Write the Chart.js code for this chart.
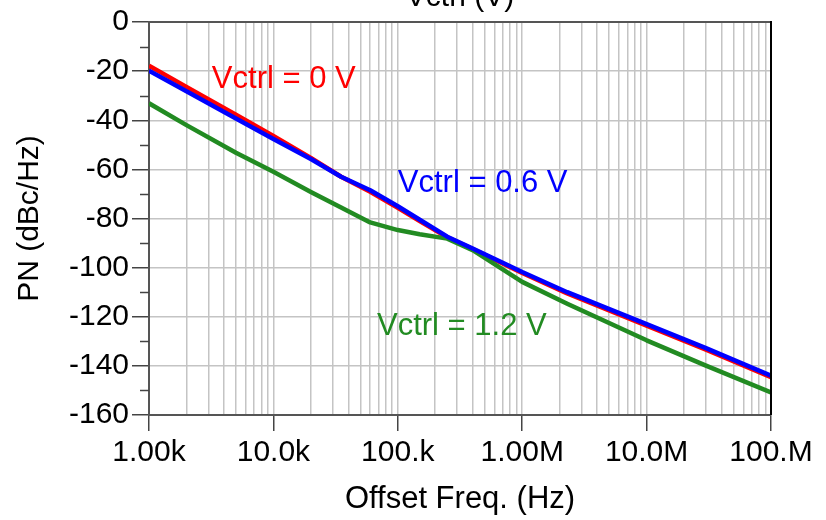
<!DOCTYPE html>
<html>
<head>
<meta charset="utf-8">
<script src="https://cdn.jsdelivr.net/npm/chart.js@4.4.1/dist/chart.umd.min.js"></script>
<style>
  html, body { margin: 0; padding: 0; background: #fff; }
  #wrap { width: 826px; height: 520px; }
</style>
</head>
<body>
<div id="wrap"><canvas id="pnChart" width="826" height="520"></canvas></div>
<script>
// offset frequencies (Hz) where the curves were read
const freqs = [1e3, 2e3, 5e3, 1e4, 2e4, 3.5e4, 6e4, 1e5, 1.5e5, 2.5e5, 4e5, 1e6, 2.3e6, 1e7, 3e7, 1e8];
// phase noise (dBc/Hz) for each control voltage
const pnV0  = [-17.8, -26.4, -37.7, -46.4, -55.3, -63.0, -69.1, -75.6, -81.0, -87.7, -92.4, -102.2, -110.5, -123.6, -133.4, -144.6];
const pnV06 = [-19.8, -28.2, -39.3, -47.6, -55.8, -63.0, -68.5, -75.0, -80.5, -87.4, -92.2, -101.8, -110.0, -123.0, -132.8, -144.0];
const pnV12 = [-33.1, -42.0, -53.2, -61.0, -69.2, -75.5, -81.6, -84.7, -86.4, -88.2, -92.9, -105.8, -114.7, -129.6, -139.9, -150.8];

const seriesNames = ['Vctrl = 0 V', 'Vctrl = 0.6 V', 'Vctrl = 1.2 V'];

// axis ticks
const xDecades = [1e3, 1e4, 1e5, 1e6, 1e7, 1e8];
const xTickLabels = ['1.00k', '10.0k', '100.k', '1.00M', '10.0M', '100.M'];
const yMajor = [0, -20, -40, -60, -80, -100, -120, -140, -160];
const yMinor = [-10, -30, -50, -70, -90, -110, -130, -150];

const FONT = "'Liberation Sans', Arial, Helvetica, sans-serif";
const RED = '#ff0000', BLUE = '#0000ff', GREEN = '#228b22';

function toPoints(vals) {
  return freqs.map((f, i) => ({ x: f, y: vals[i] }));
}

// every 1..9 x decade, for the grid
const xAllTicks = [];
xDecades.forEach((d, i) => {
  if (i === xDecades.length - 1) { xAllTicks.push(d); return; }
  for (let m = 1; m <= 9; m++) xAllTicks.push(d * m);
});

// frame, minor y ticks, title and curve labels
const decorPlugin = {
  id: 'decor',
  afterDraw(chart) {
    const ctx = chart.ctx;
    const a = chart.chartArea;
    const xs = chart.scales.x, ys = chart.scales.y;
    ctx.save();
    // top + right frame
    ctx.lineWidth = 2;
    ctx.strokeStyle = '#555';
    ctx.beginPath(); ctx.moveTo(a.left, a.top); ctx.lineTo(a.right, a.top); ctx.stroke();
    ctx.strokeStyle = '#000';
    ctx.beginPath(); ctx.moveTo(a.right, a.top - 1); ctx.lineTo(a.right, a.bottom); ctx.stroke();
    // minor y ticks
    ctx.strokeStyle = '#444';
    ctx.lineWidth = 1.5;
    yMinor.forEach(v => {
      const y = Math.round(ys.getPixelForValue(v)) + 0.5;
      ctx.beginPath(); ctx.moveTo(a.left - 9, y); ctx.lineTo(a.left, y); ctx.stroke();
    });
    // clipped chart title
    ctx.fillStyle = '#000';
    ctx.font = '30px ' + FONT;
    ctx.textAlign = 'center';
    ctx.textBaseline = 'alphabetic';
    ctx.fillText('Vctrl (V)', (a.left + a.right) / 2, 6);
    // curve labels, anchored in data space
    ctx.textAlign = 'left';
    ctx.font = '31px ' + FONT;
    const labels = [
      { text: seriesNames[0], f: 3.2e3, v: -26.8, c: RED },
      { text: seriesNames[1], f: 1.0e5, v: -69.2, c: BLUE },
      { text: seriesNames[2], f: 6.8e4, v: -127.6, c: GREEN }
    ];
    labels.forEach(l => {
      ctx.fillStyle = l.c;
      ctx.fillText(l.text, xs.getPixelForValue(l.f), ys.getPixelForValue(l.v));
    });
    ctx.restore();
  }
};

const lineStyle = { borderWidth: 4.5, pointRadius: 0, tension: 0, fill: false, borderJoinStyle: 'round' };

new Chart(document.getElementById('pnChart'), {
  type: 'line',
  data: {
    datasets: [
      Object.assign({ label: seriesNames[0], data: toPoints(pnV0), borderColor: RED, order: 3 }, lineStyle),
      Object.assign({ label: seriesNames[2], data: toPoints(pnV12), borderColor: GREEN, order: 2 }, lineStyle),
      Object.assign({ label: seriesNames[1], data: toPoints(pnV06), borderColor: BLUE, order: 1 }, lineStyle)
    ]
  },
  options: {
    responsive: false,
    animation: false,
    events: [],
    layout: { padding: { top: 22, right: 55, bottom: 0, left: 0 } },
    plugins: { legend: { display: false }, tooltip: { enabled: false }, title: { display: false } },
    scales: {
      x: {
        type: 'logarithmic',
        min: 1e3,
        max: 1e8,
        afterBuildTicks(scale) {
          scale.ticks = xAllTicks.map(v => ({ value: v, major: xDecades.includes(v) }));
        },
        afterFit(scale) { scale.height = 105; },
        ticks: {
          autoSkip: false,
          maxRotation: 0,
          padding: 4,
          color: '#000',
          font: { family: FONT, size: 30 },
          callback(value) {
            const i = xDecades.indexOf(value);
            return i >= 0 ? xTickLabels[i] : '';
          }
        },
        grid: {
          color: '#c4c4c4',
          lineWidth: 1.5,
          tickLength: 16,
          tickColor: ctx => (ctx.tick && xDecades.includes(ctx.tick.value)) ? '#444' : 'rgba(0,0,0,0)',
          tickWidth: 1.5
        },
        border: { color: '#555', width: 2 },
        title: {
          display: true,
          text: 'Offset Freq. (Hz)',
          color: '#000',
          font: { family: FONT, size: 31 },
          padding: { top: 0, bottom: 2 }
        }
      },
      y: {
        min: -160,
        max: 0,
        afterBuildTicks(scale) {
          scale.ticks = yMajor.map(v => ({ value: v }));
        },
        afterFit(scale) { scale.width = 149; },
        ticks: {
          autoSkip: false,
          padding: 3,
          color: '#000',
          font: { family: FONT, size: 30 },
          callback: value => String(value)
        },
        grid: {
          color: '#c4c4c4',
          lineWidth: 1.5,
          tickLength: 17,
          tickColor: '#444',
          tickWidth: 1.5
        },
        border: { color: '#555', width: 2 },
        title: {
          display: true,
          text: 'PN (dBc/Hz)',
          color: '#000',
          font: { family: FONT, size: 30 },
          padding: { top: 12, bottom: 0 }
        }
      }
    }
  },
  plugins: [decorPlugin]
});
</script>
</body>
</html>
